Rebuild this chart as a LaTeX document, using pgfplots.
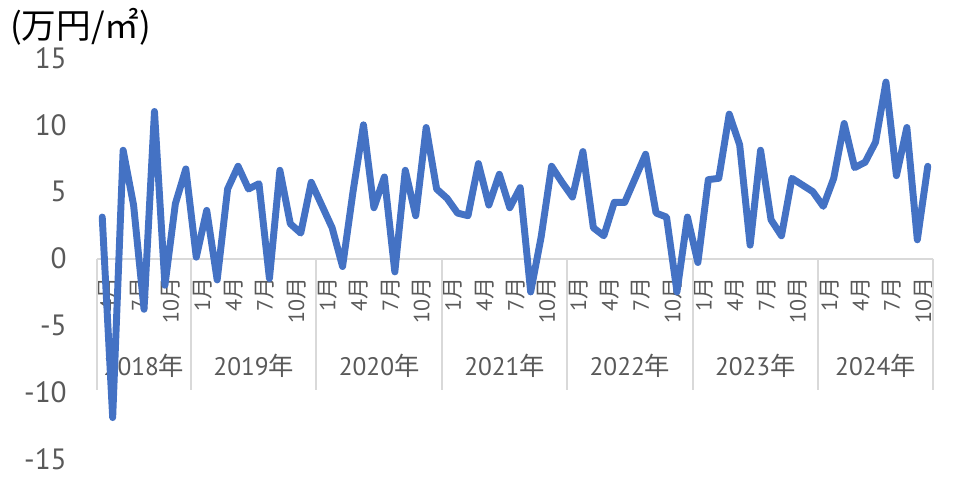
\documentclass[border=0pt]{standalone}
\usepackage{pgfplots}
\pgfplotsset{compat=1.18}
\usepackage{fontspec}
\setmainfont{PT Sans}
\newfontfamily\numf{PT Sans}
\newfontfamily\cjk{Noto Sans CJK JP}
\newfontfamily\cjkm{Noto Sans CJK JP}
\definecolor{linecol}{HTML}{4472C4}
\definecolor{txt}{HTML}{595959}
\definecolor{axgray}{HTML}{D9D9D9}
\newcommand{\M}{{\cjkm 月}}
\newcommand{\Y}{{\cjkm 年}}
\pgfplotstableread{
x y
0 3.1
1 -11.9
2 8.1
3 4.0
4 -3.8
5 11.0
6 -2.0
7 4.1
8 6.7
9 0.1
10 3.6
11 -1.6
12 5.2
13 6.9
14 5.2
15 5.6
16 -1.5
17 6.6
18 2.6
19 1.9
20 5.7
21 4.0
22 2.3
23 -0.6
24 5.0
25 10.0
26 3.8
27 6.1
28 -1.0
29 6.6
30 3.2
31 9.8
32 5.2
33 4.5
34 3.4
35 3.2
36 7.1
37 4.0
38 6.3
39 3.8
40 5.3
41 -2.5
42 1.6
43 6.9
44 5.7
45 4.6
46 8.0
47 2.3
48 1.7
49 4.2
50 4.2
51 6.0
52 7.8
53 3.4
54 3.1
55 -2.5
56 3.1
57 -0.3
58 5.9
59 6.0
60 10.8
61 8.5
62 1.0
63 8.1
64 2.9
65 1.7
66 6.0
67 5.5
68 5.0
69 3.9
70 6.0
71 10.1
72 6.8
73 7.2
74 8.7
75 13.2
76 6.2
77 9.8
78 1.4
79 6.9
}\datatable
\begin{document}
\begin{tikzpicture}
\begin{axis}[
  set layers,
  at={(0pt,0pt)}, anchor=south west,
  scale only axis, width=627pt, height=300.75pt,
  xmin=-0.5, xmax=79.5, ymin=-15, ymax=15,
  axis line style={draw=none},
  major tick length=0pt,
  ytick={-15,-10,-5,0,5,10,15},
  yticklabels={-15,-10,-5,0,5,10,15},
  yticklabel style={font=\numf\fontsize{22}{22}\selectfont, text=txt, anchor=east, inner sep=0pt, xshift=-22.5pt},
  xtick={0,3,...,78},
  xticklabels={4\M,7\M,10\M,1\M,4\M,7\M,10\M,1\M,4\M,7\M,10\M,1\M,4\M,7\M,10\M,1\M,4\M,7\M,10\M,1\M,4\M,7\M,10\M,1\M,4\M,7\M,10\M},
  xticklabel style={font=\numf\fontsize{16.5}{16.5}\selectfont, text=txt, inner sep=0pt, xshift=4.5pt, rotate=90, anchor=east},
  xticklabel shift=-136pt,
  clip=false,
]
\draw[axgray, line width=1.5pt] (axis cs:-0.5,0) -- (axis cs:79.5,0);
\foreach \s in {-0.5,8.5,20.5,32.5,44.5,56.5,68.5,79.5} {
  \edef\tmp{\noexpand\draw[axgray, line width=1.5pt] (axis cs:\s,0) -- (axis cs:\s,-9.84);}
  \tmp
}
\node[font=\numf\fontsize{19}{19}\selectfont, text=txt] at (axis cs:4,-8.04) {2018\Y};
\node[font=\numf\fontsize{19}{19}\selectfont, text=txt] at (axis cs:14.5,-8.04) {2019\Y};
\node[font=\numf\fontsize{19}{19}\selectfont, text=txt] at (axis cs:26.5,-8.04) {2020\Y};
\node[font=\numf\fontsize{19}{19}\selectfont, text=txt] at (axis cs:38.5,-8.04) {2021\Y};
\node[font=\numf\fontsize{19}{19}\selectfont, text=txt] at (axis cs:50.5,-8.04) {2022\Y};
\node[font=\numf\fontsize{19}{19}\selectfont, text=txt] at (axis cs:62.5,-8.04) {2023\Y};
\node[font=\numf\fontsize{19}{19}\selectfont, text=txt] at (axis cs:74,-8.04) {2024\Y};
\addplot[linecol, line width=5.2pt, line join=round, line cap=round] table[x=x,y=y] {\datatable};
\end{axis}
\node[anchor=west, inner sep=0pt, font=\cjk\fontsize{26}{26}\selectfont, text=black] at (-65.25pt,324pt) {(万円/㎡)};
\pgfresetboundingbox
\path[use as bounding box] (-72.75pt,-15.75pt) rectangle (644.25pt,344.25pt);
\end{tikzpicture}
\end{document}
